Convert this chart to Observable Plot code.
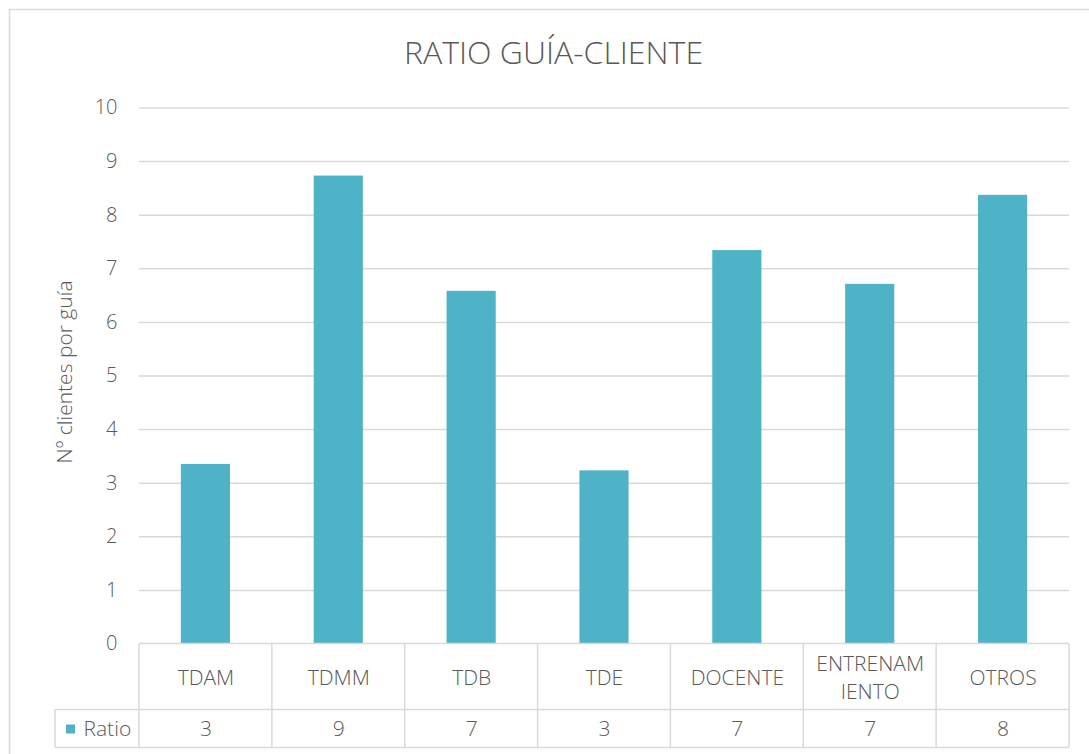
<!DOCTYPE html>
<html>
<head>
<meta charset="utf-8">
<script src="https://cdn.jsdelivr.net/npm/d3@7"></script>
<script src="https://cdn.jsdelivr.net/npm/@observablehq/plot@0.6"></script>
<style>
  html, body { margin: 0; padding: 0; background: #ffffff; }
  #chart svg { display: block; }
</style>
</head>
<body>
<div id="chart"></div>
<script>
// ---- Data ----
const chartTitle = "RATIO GUÍA-CLIENTE";
const yAxisLabel = "Nº clientes por guía";
const seriesName = "Ratio";
const categories = ["TDAM", "TDMM", "TDB", "TDE", "DOCENTE", "ENTRENAMIENTO", "OTROS"];
const categoryLabels = ["TDAM", "TDMM", "TDB", "TDE", "DOCENTE", "ENTRENAM\nIENTO", "OTROS"];
const ratioValues = [3.35, 8.73, 6.58, 3.23, 7.34, 6.71, 8.37];
const tableValues = [3, 9, 7, 3, 7, 7, 8];
const yTicks = [0, 1, 2, 3, 4, 5, 6, 7, 8, 9, 10];

const rows = categories.map((c, i) => ({
  category: c,
  label: categoryLabels[i],
  ratio: ratioValues[i],
  shown: tableValues[i]
}));

// ---- Style ----
const barColor = "#4fb3c8";
const textColor = "#595959";
const lineColor = "#d9d9d9";
const font = "'Open Sans', 'Segoe UI', sans-serif";
const weight = 300;

const W = 1089, H = 754;
const mLeft = 139, mRight = 20, mTop = 107.5, mBottom = 110.5;

// Table grid lines + outer chart border, positioned with Plot's scales
function tableGrid(index, scales, values, dims) {
  const x = scales.x, y = scales.y;
  const n = categories.length;
  const step = x.step ? x.step() : (dims.width - dims.marginLeft - dims.marginRight) / n;
  const bw = x.bandwidth ? x.bandwidth() : 0;
  const centers = categories.map(c => x(c) + bw / 2);
  const y0 = y(0);
  const rowMid = y0 + 66;
  const rowBottom = y0 + 104;
  const left = centers[0] - step / 2;
  const right = centers[n - 1] + step / 2;
  const legendLeft = 55;
  const g = d3.create("svg:g").attr("fill", "none").attr("stroke", lineColor).attr("stroke-width", 1.5);
  // outer chart border
  g.append("rect").attr("x", 9.5).attr("y", 9.5).attr("width", dims.width + 40).attr("height", dims.height + 40);
  // top line (axis)
  g.append("line").attr("x1", left).attr("x2", right).attr("y1", y0).attr("y2", y0);
  // middle and bottom lines
  g.append("line").attr("x1", legendLeft).attr("x2", right).attr("y1", rowMid).attr("y2", rowMid);
  g.append("line").attr("x1", legendLeft).attr("x2", right).attr("y1", rowBottom).attr("y2", rowBottom);
  // legend cell left edge
  g.append("line").attr("x1", legendLeft).attr("x2", legendLeft).attr("y1", rowMid).attr("y2", rowBottom);
  // vertical separators
  const bounds = centers.map(c => c - step / 2).concat([right]);
  for (const b of bounds) {
    g.append("line").attr("x1", b).attr("x2", b).attr("y1", y0).attr("y2", rowBottom);
  }
  // legend swatch
  g.append("rect").attr("x", 66).attr("y", rowMid + 15).attr("width", 9).attr("height", 9)
    .attr("fill", barColor).attr("stroke", "none");
  return g.node();
}

const chart = Plot.plot({
  width: W,
  height: H,
  marginLeft: mLeft,
  marginRight: mRight,
  marginTop: mTop,
  marginBottom: mBottom,
  style: { fontFamily: font, color: textColor, background: "#ffffff" },
  x: { domain: categories, paddingInner: 0.63, paddingOuter: 0.315, round: false, axis: null },
  y: { domain: [0, 10], axis: null },
  marks: [
    Plot.gridY(yTicks.filter(t => t > 0), { stroke: lineColor, strokeOpacity: 1, strokeWidth: 1.5 }),
    Plot.barY(rows, { x: "category", y: "ratio", fill: barColor }),
    Plot.axisY(yTicks, {
      tickSize: 0, tickPadding: 22, fontSize: 20, fill: textColor, fontWeight: weight,
      tickFormat: d => String(d), label: null
    }),
    tableGrid,
    // category labels row
    Plot.text(rows, {
      x: "category", text: "label", frameAnchor: "bottom", dy: 32,
      fontSize: 21, fill: textColor, fontWeight: weight, lineHeight: 1.35, lineAnchor: "middle"
    }),
    // values row
    Plot.text(rows, {
      x: "category", text: d => String(d.shown), frameAnchor: "bottom", dy: 85,
      fontSize: 21, fill: textColor, fontWeight: weight, lineAnchor: "middle"
    }),
    // legend label
    Plot.text([seriesName], {
      frameAnchor: "bottom-left", dx: 83 - mLeft, dy: 85, text: d => d,
      textAnchor: "start", lineAnchor: "middle", fontSize: 21, fill: textColor, fontWeight: weight
    }),
    // y-axis title
    Plot.text([yAxisLabel], {
      frameAnchor: "left", dx: 64.5 - mLeft, dy: -4, rotate: -90, text: d => d,
      textAnchor: "middle", fontSize: 21, fill: textColor, fontWeight: weight, lineAnchor: "middle"
    }),
    // chart title
    Plot.text([chartTitle], {
      frameAnchor: "top", dx: 553 - (mLeft + (W - mLeft - mRight) / 2), dy: -54, text: d => d,
      fontSize: 32, fill: textColor, fontWeight: weight, lineAnchor: "middle"
    })
  ]
});

document.getElementById("chart").appendChild(chart);
</script>
</body>
</html>
